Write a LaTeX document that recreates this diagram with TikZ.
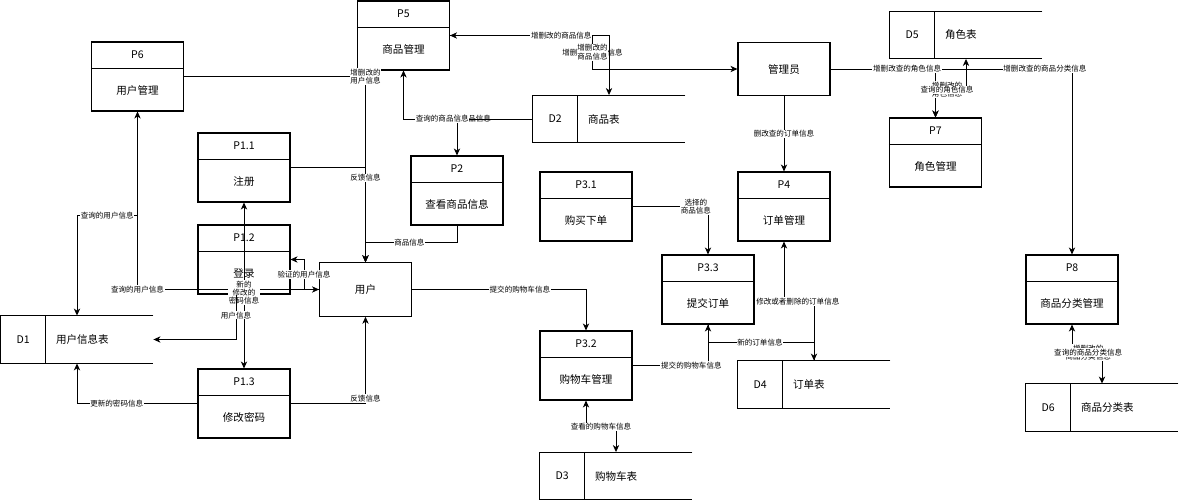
\documentclass[tikz,border=0pt]{standalone}
\usepackage{fontspec}
\setmainfont{Noto Sans CJK SC}
\usetikzlibrary{arrows.meta}

% process box: name, centre, id, title
\newcommand{\dfdproc}[4]{%
  \node[proc] (#1) at (#2) {};
  \draw[boxline] ([yshift=-0.54cm]#1.north west) -- ([yshift=-0.54cm]#1.north east);
  \node[txt] (#1id) at ([yshift=-0.27cm]#1.north) {#3};
  \node[txt] (#1nm) at ([yshift=0.42cm]#1.south) {#4};
}
% data store: name, centre, id, title
\newcommand{\dfdstore}[4]{%
  \node[store] (#1) at (#2) {};
  \draw[boxline] (#1.north east) -- (#1.north west) -- (#1.south west) -- (#1.south east);
  \draw[boxline] ([xshift=0.9cm]#1.north west) -- ([xshift=0.9cm]#1.south west);
  \node[txt] (#1id) at ([xshift=0.45cm]#1.west) {#3};
  \node[txt, anchor=west] (#1nm) at ([xshift=1.1cm]#1.west) {#4};
}

\begin{document}
\begin{tikzpicture}[x=0.02cm, y=-0.02cm, line width=0.5pt,
  >={Stealth[length=4pt, width=3.6pt, inset=1.2pt]},
  boxline/.style={line width=0.6pt},
  proc/.style={draw, line width=0.6pt, minimum width=1.84cm, minimum height=1.38cm, inner sep=0},
  ent/.style={draw, line width=0.6pt, minimum width=1.84cm, minimum height=1.07cm, inner sep=0,
    font=\fontsize{6}{7}\selectfont},
  store/.style={minimum width=3.04cm, minimum height=0.94cm, inner sep=0},
  txt/.style={inner sep=0, font=\fontsize{6}{7}\selectfont},
  lbl/.style={fill=white, inner sep=0.4pt, align=center, font=\fontsize{4.3}{4.8}\selectfont}]
  % \draw[help lines] (0,0) grid[step=50] (1180,500);
  \useasboundingbox (0,0) rectangle (1180,500);

  \dfdproc{p5}{403.5,35.5}{P5}{商品管理}
  \dfdproc{p6}{137.5,76.5}{P6}{用户管理}
  \dfdproc{p11}{244,167.5}{P1.1}{注册}
  \dfdproc{p12}{244,259.5}{P1.2}{登录}
  \dfdproc{p13}{244,403.5}{P1.3}{修改密码}
  \dfdproc{p2}{457,190.5}{P2}{查看商品信息}
  \dfdproc{p31}{586,206.5}{P3.1}{购买下单}
  \dfdproc{p32}{586,365.5}{P3.2}{购物车管理}
  \dfdproc{p33}{708,289.5}{P3.3}{提交订单}
  \dfdproc{p4}{784,206.5}{P4}{订单管理}
  \dfdproc{p7}{935.5,152.5}{P7}{角色管理}
  \dfdproc{p8}{1072,289.5}{P8}{商品分类管理}

  \node[ent] (user) at (365.5,289.5) {用户};
  \node[ent] (admin) at (784,69) {管理员};

  \dfdstore{d1}{77,339.5}{D1}{用户信息表}
  \dfdstore{d2}{609,119}{D2}{商品表}
  \dfdstore{d3}{616,476}{D3}{购物车表}
  \dfdstore{d4}{814,384.5}{D4}{订单表}
  \dfdstore{d5}{966,35}{D5}{角色表}
  \dfdstore{d6}{1102,407.5}{D6}{商品分类表}

  % user side
  \draw[->] (p6.east) -| node[lbl, pos=0.5] (l1) {增删改的\\用户信息} (user.north);
  \draw[->] (p11.east) -| node[lbl, pos=0.555] (l2) {反馈信息} (user.north);
  \draw[->] (p2.south) |- node[lbl, pos=0.76] (l3) {商品信息} ([yshift=0.4cm]user.north) -- (user.north);
  \draw[->] (p13.east) -| node[lbl, pos=0.53] (l4) {反馈信息} (user.south);
  \draw[->] (p13.west) -| node[lbl, pos=0.335] (l5) {更新的密码信息} (d1.south);
  \draw[<->] (user.west) -| node[lbl, pos=0.5] (l6) {查询的用户信息} (p6.south);
  \draw[->] (p6.south) -- ++(0,104) -| node[lbl, pos=0.25] (l7) {查询的用户信息} (d1.north);
  \draw[->] (user.west) -- ++(-15,0) |- node[lbl, pos=0.25] (l8) {验证的用户信息} (p12.east);
  \draw[->] (user.west) -| (p11.south);
  \draw[->] (user.west) -| node[lbl, pos=0.52] (l10) {新的\\修改的\\密码信息} (p13.north);
  \draw[->] ([xshift=-0.16cm]p12.south) |- node[lbl, pos=0.23] (l11) {用户信息} (d1.east);

  % shopping and orders
  \draw[->] (user.east) -| node[lbl, pos=0.31] (l12) {提交的购物车信息} (p32.north);
  \draw[->] (p32.east) -| node[lbl, pos=0.39] (l13) {提交的购物车信息} (p33.south);
  \draw[->] (p33.south) |- node[lbl, pos=0.745] (l14) {新的订单信息} ([yshift=0.36cm]d4.north) -- (d4.north);
  \draw[->] (d4.north) -- ++(0,-59) -| node[lbl, pos=0.27] (l15) {修改或者删除的订单信息} (p4.south);
  \draw[->] (p31.east) -| node[lbl, pos=0.42] (l16) {选择的\\商品信息} (p33.north);
  \draw[->] (admin.south) -- node[lbl] (l17) {删改查的订单信息} (p4.north);
  \draw[<->] (p32.south) |- node[lbl, pos=0.75] (l18) {查看的购物车信息} ([yshift=0.5cm]d3.north) -- (d3.north);

  % goods
  \draw[<->] (p5.east) -| node[lbl, pos=0.75] (l19) {增删改的商品信息}
    node[lbl, pos=0.75] (l20) {增删改的\\商品信息} ([xshift=-2.9cm]admin.west) -- (admin.west);
  \draw[->] (p5.east) -| node[lbl, pos=0.35] (l21) {增删改的商品信息} (d2.north);
  \draw[->] (d2.west) -| node[lbl, pos=0.45] (l22) {查询的商品信息} (p2.north);
  \draw[->] (d2.west) -| node[lbl, pos=0.35] (l23) {查询的商品信息} (p5.south);

  % roles and categories
  \draw[->] (admin.east) -| node[lbl, pos=0.444] (l24) {增删改查的商品分类信息} (p8.north);
  \draw[->] (admin.east) -| node[lbl, pos=0.365] (l25) {增删改查的角色信息} (p7.north);
  \draw[<->] (p7.north) |- node[lbl, pos=0.69] (l26) {增删改的\\角色信息}
    node[lbl, pos=0.69] (l27) {查询的角色信息} ([yshift=-0.62cm]d5.south) -- (d5.south);
  \draw[<->] (p8.south) |- node[lbl, pos=0.77] (l28) {增删改的\\商品分类信息}
    node[lbl, pos=0.77] (l29) {查询的商品分类信息} ([yshift=0.62cm]d6.north) -- (d6.north);
\end{tikzpicture}
\end{document}
